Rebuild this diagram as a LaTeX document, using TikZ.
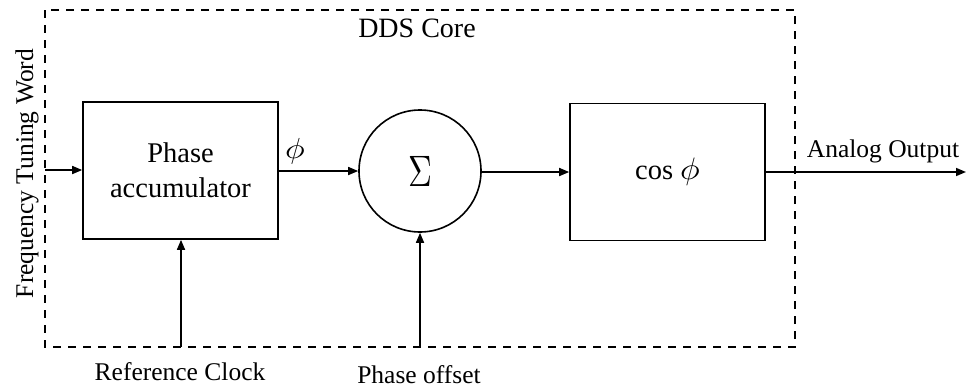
\documentclass[tikz,border=0pt]{standalone}
\usepackage{graphicx}
\usepackage{fontspec}
\setmainfont{Liberation Serif}
\usetikzlibrary{arrows.meta}
\newcommand{\bigphi}[1]{\scalebox{3.3}[#1]{\fontsize{10}{12}\selectfont$\phi$}}
\begin{document}
\begin{tikzpicture}[x=1pt,y=-1pt,
  lbl/.style={font=\fontsize{25.5}{28}\selectfont, inner sep=0pt, anchor=base},
  blk/.style={draw, line width=1.6pt, minimum width=195pt, minimum height=137pt, inner sep=0pt, font=\fontsize{28.5}{35}\selectfont, align=center},
  wire/.style={line width=1.6pt, -{Triangle[length=10pt,width=8pt]}},
  frame/.style={draw, line width=1.5pt, dash pattern=on 8pt off 7pt}
]
\useasboundingbox (0,0) rectangle (966,388);
\draw[frame] (45,10) rectangle (795,347);
\node[lbl, font=\fontsize{28}{30}\selectfont] (core) at (417,37) {DDS Core};
\node[blk] (acc) at (180.5,170.5) {Phase\\accumulator};
\node[draw, circle, line width=1.6pt, minimum size=122pt, inner sep=0pt] (sum) at (420,171) {\scalebox{3.3}[4.4]{\fontsize{10}{12}\selectfont$\Sigma$}};
\node[blk] (cos) at (667.5,172) {cos \bigphi{3.1}};
\coordinate (ftw) at (45,170);
\coordinate (clk) at (181,347);
\coordinate (off) at (420,347);
\coordinate (out) at (966,172);
\node[lbl, rotate=90] (ftwl) at (33,173.5) {Frequency Tuning Word};
\node[lbl] (clkl) at (180,380) {Reference Clock};
\node[lbl] (offl) at (419,383) {Phase offset};
\node[lbl] (outl) at (883,157) {Analog Output};
\node[lbl] (phil) at (295,158) {\bigphi{2.9}};
\draw[wire] (ftw) -- (acc.west |- ftw);
\draw[wire] (acc.east |- sum.west) -- (sum.west);
\draw[wire] (sum.east |- cos.west) -- (cos.west);
\draw[wire] (clk) -- (clk |- acc.south);
\draw[wire] (off) -- (sum.south);
\draw[wire] (cos.east) -- (out);
\end{tikzpicture}
\end{document}
